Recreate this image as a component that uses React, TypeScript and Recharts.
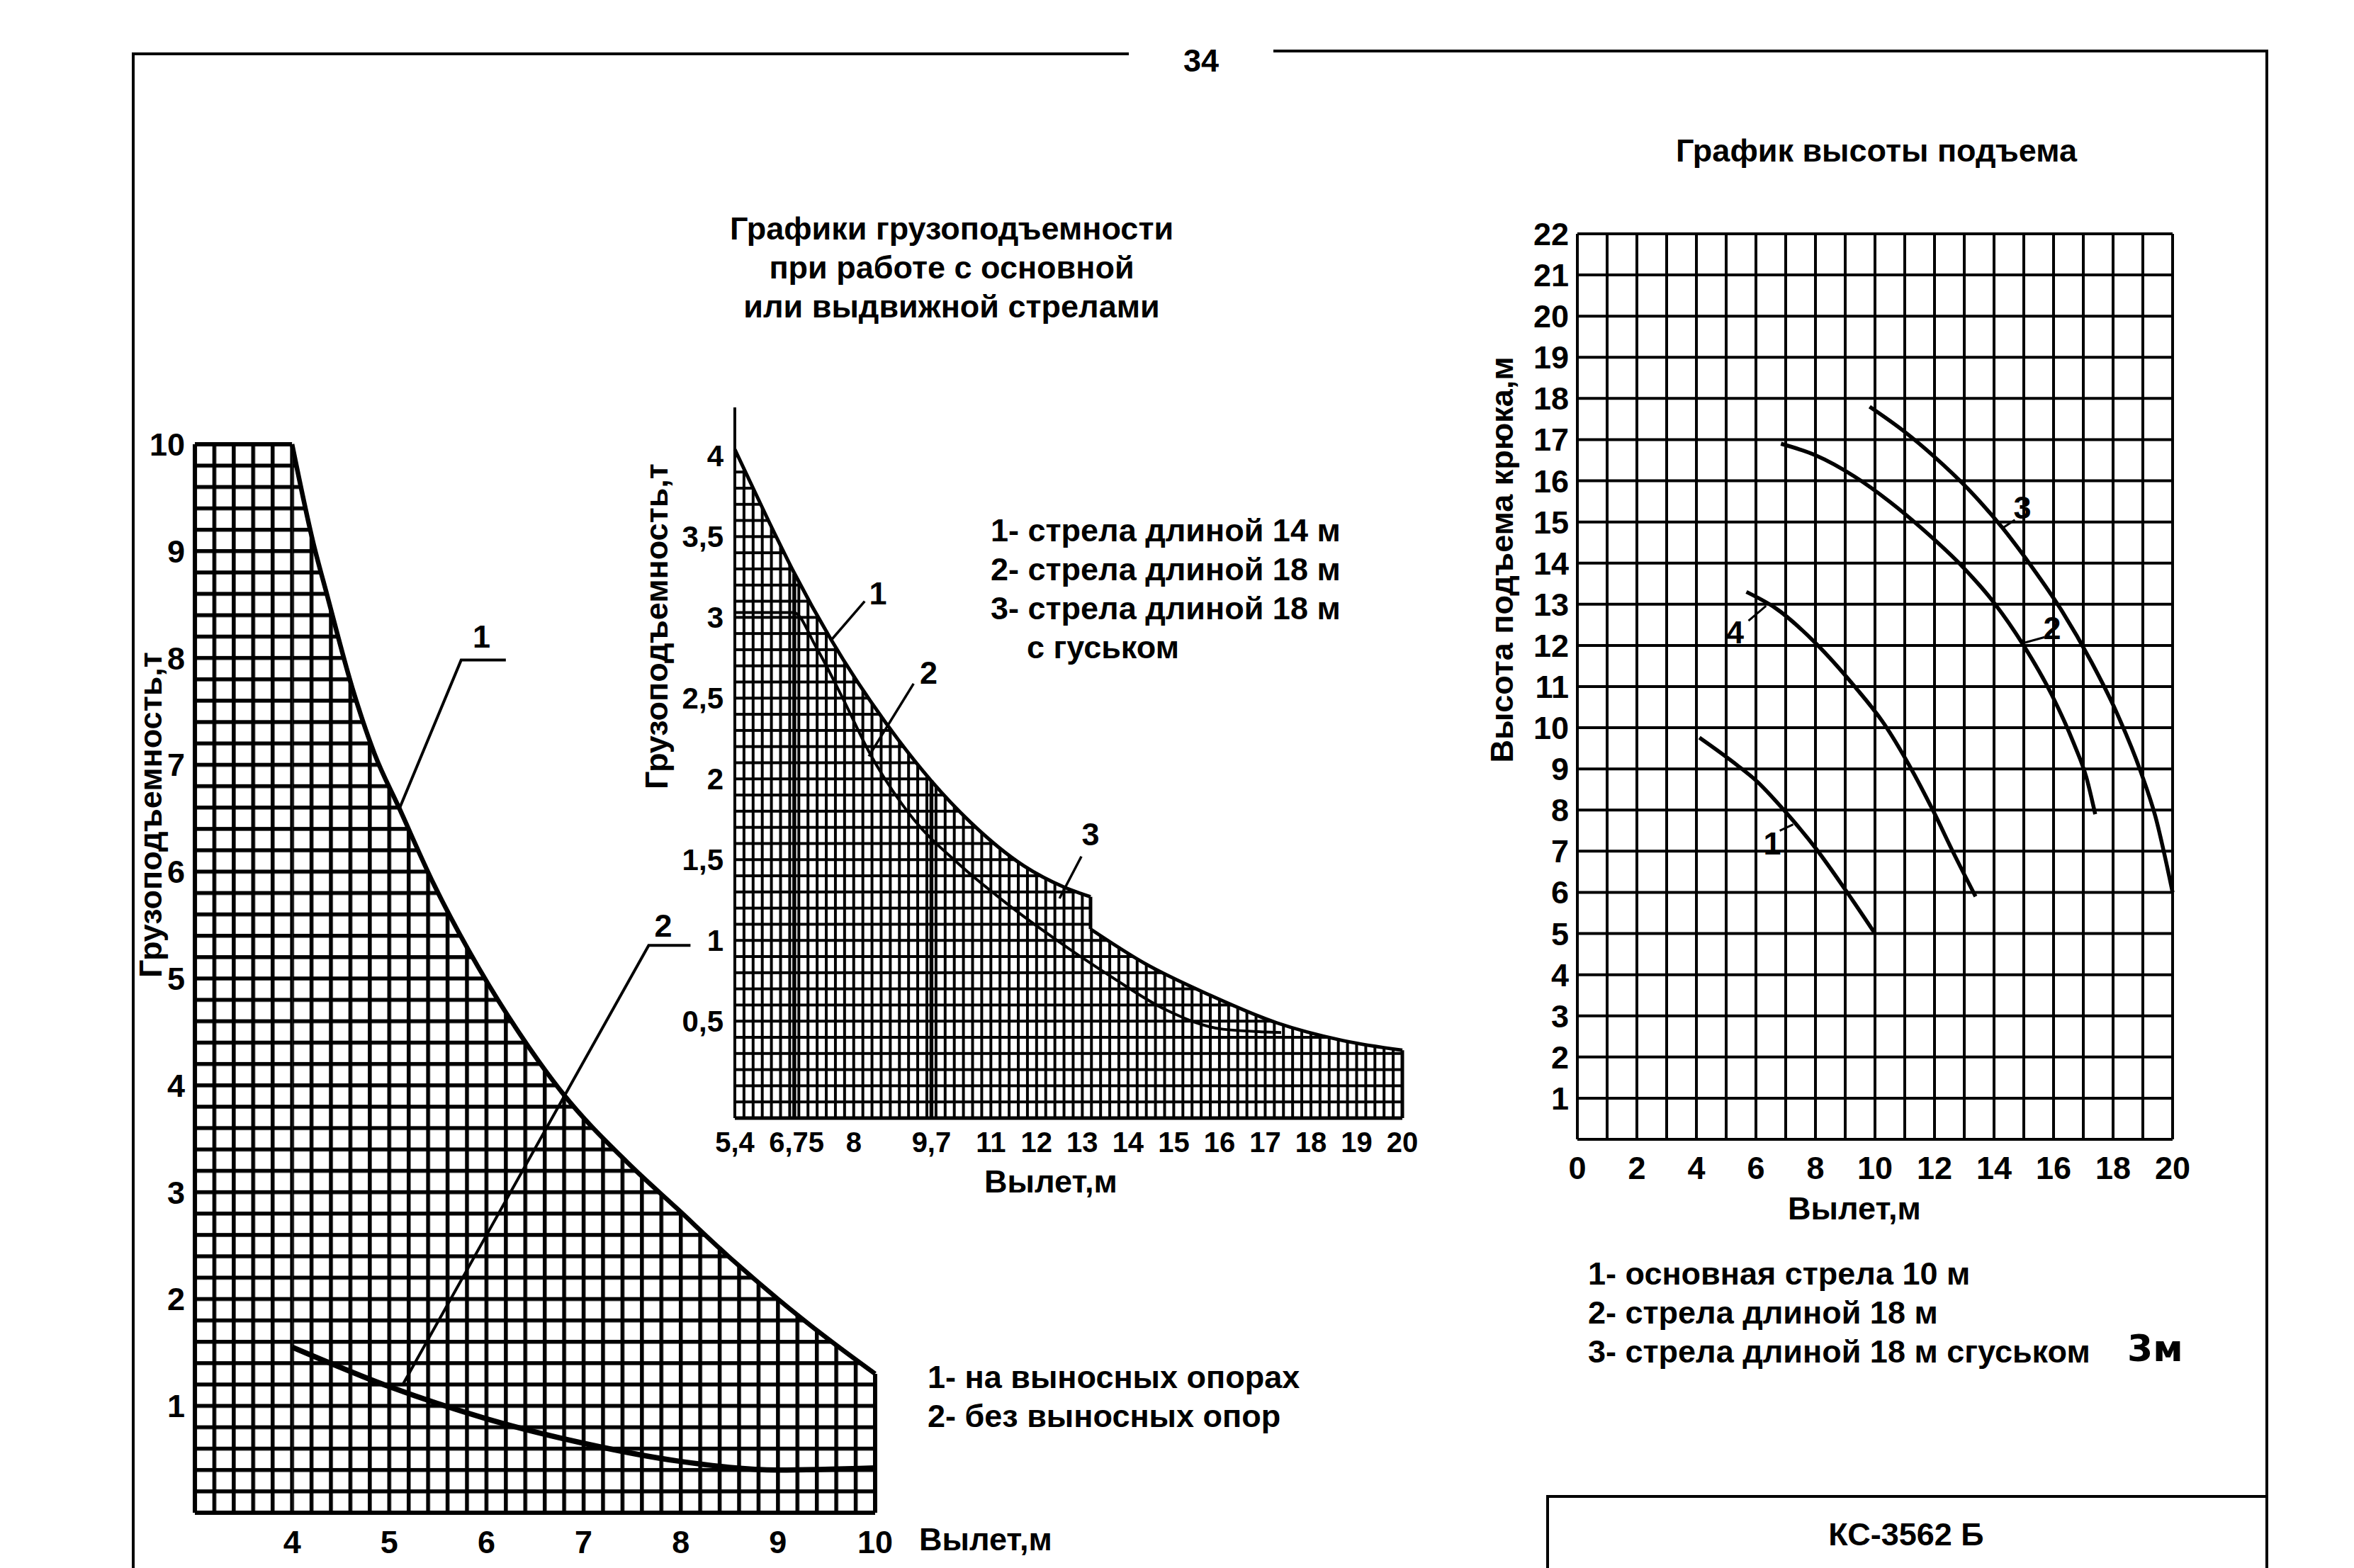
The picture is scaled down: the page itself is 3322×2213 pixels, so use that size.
import type { ReactNode } from "react";
import { Area, CartesianGrid, ComposedChart, Line, ReferenceDot, XAxis, YAxis } from "recharts";

const FONT = '"Liberation Sans", Arial, Helvetica, sans-serif';
const INK = "#000";

// ---------- left chart: на выносных опорах / без выносных опор ----------
const LEFT_X_TICKS = [4, 5, 6, 7, 8, 9, 10];
const LEFT_Y_TICKS = [1, 2, 3, 4, 5, 6, 7, 8, 9, 10];
const LEFT_TOP_X = [3, 4];
const LEFT_TOP_Y = [10, 10];
const LEFT_C1_X = [4, 4.22, 4.36, 4.62, 4.85, 5.1, 5.46, 5.92, 6.33, 6.79, 7.46, 7.97, 8.49, 9.0, 9.51, 10];
const LEFT_C1_Y = [10, 9.07, 8.59, 7.72, 7.1, 6.6, 5.88, 5.1, 4.5, 3.92, 3.27, 2.84, 2.4, 2.0, 1.63, 1.3];
const LEFT_C2_X = [4, 5, 6, 7, 8, 9, 10];
const LEFT_C2_Y = [1.55, 1.18, 0.88, 0.65, 0.48, 0.4, 0.42];
const LEFT_EDGES = [
  { x: [3, 3], y: [0, 10] },
  { x: [3, 10], y: [0, 0] },
  { x: [10, 10], y: [0, 1.3] },
];
const LEFT_LEADERS = [
  { x: [5.1, 5.74, 6.2], y: [6.58, 7.98, 7.98] },
  { x: [5.14, 7.67, 8.1], y: [1.2, 5.31, 5.31] },
];
const LEFT_MARKS = [
  { text: "1", x: 5.95, y: 8.2 },
  { text: "2", x: 7.82, y: 5.5 },
];

// ---------- middle chart: стрелы 14 / 18 м ----------
const MID_X_TICKS = [5.4, 6.75, 8, 9.7, 11, 12, 13, 14, 15, 16, 17, 18, 19, 20];
const MID_Y_TICKS = [0.5, 1, 1.5, 2, 2.5, 3, 3.5, 4];
const MID_UP_X = [5.4, 6.1, 6.69, 7.51, 8.72, 9.69, 10.56, 11.73, 12.6, 13.18];
const MID_UP_Y = [4.04, 3.62, 3.28, 2.86, 2.34, 1.99, 1.73, 1.46, 1.33, 1.27];
const MID_LOW_X = [13.18, 14.35, 15.8, 17.25, 18.7, 20];
const MID_LOW_Y = [1.07, 0.86, 0.66, 0.49, 0.38, 0.32];
const MID_C2_X = [5.4, 6.69, 7.17, 7.76, 8.33, 9.31, 10.27, 11.34, 12.5, 13.66, 14.83, 16.08, 17.35];
const MID_C2_Y = [3.03, 3.03, 2.82, 2.5, 2.17, 1.75, 1.48, 1.23, 0.99, 0.77, 0.57, 0.45, 0.43];
const MID_EDGES = [
  { x: [13.18, 13.18], y: [1.27, 1.07] },
  { x: [5.4, 20], y: [-0.1, -0.1] },
  { x: [20, 20], y: [-0.1, 0.32] },
  { x: [6.7, 6.7], y: [-0.1, 3.27] },
  { x: [9.7, 9.7], y: [-0.1, 1.99] },
];
const MID_LEADERS = [
  { x: [7.51, 8.24], y: [2.86, 3.1] },
  { x: [8.33, 9.31], y: [2.14, 2.59] },
  { x: [12.5, 12.98], y: [1.26, 1.52] },
];
const MID_MARKS = [
  { text: "1", x: 8.53, y: 3.15 },
  { text: "2", x: 9.64, y: 2.66 },
  { text: "3", x: 13.18, y: 1.66 },
];

// ---------- right chart: высота подъема ----------
const RIGHT_X_TICKS = [0, 1, 2, 3, 4, 5, 6, 7, 8, 9, 10, 11, 12, 13, 14, 15, 16, 17, 18, 19, 20];
const RIGHT_Y_TICKS = [0, 1, 2, 3, 4, 5, 6, 7, 8, 9, 10, 11, 12, 13, 14, 15, 16, 17, 18, 19, 20, 21, 22];
const RIGHT_C1_X = [4.1, 5.35, 6.0, 7.0, 8.0, 9.16, 10.0];
const RIGHT_C1_Y = [9.76, 9.1, 8.72, 7.95, 7.08, 5.9, 5.0];
const RIGHT_C4_X = [5.68, 6.67, 8.0, 9.32, 10.3, 11.14, 11.97, 12.63, 13.38];
const RIGHT_C4_Y = [13.3, 12.9, 12.06, 11.0, 10.1, 9.1, 7.96, 6.97, 5.9];
const RIGHT_C2_X = [6.84, 8.0, 9.32, 10.48, 11.64, 12.96, 14.04, 14.95, 15.94, 16.69, 17.1, 17.4];
const RIGHT_C2_Y = [16.9, 16.62, 16.1, 15.5, 14.8, 13.9, 13.0, 12.05, 10.8, 9.6, 8.8, 7.9];
const RIGHT_C3_X = [9.82, 10.98, 11.97, 13.13, 14.29, 15.28, 16.27, 17.27, 18.1, 18.92, 19.42, 20.0];
const RIGHT_C3_Y = [17.8, 17.2, 16.6, 15.8, 14.85, 13.9, 12.85, 11.6, 10.4, 8.95, 7.85, 6.0];
const RIGHT_LEADERS = [
  { x: [14.29, 14.7], y: [14.85, 15.05] },
  { x: [14.95, 15.7], y: [12.05, 12.2] },
  { x: [5.75, 6.34], y: [12.6, 12.96] },
  { x: [6.8, 7.25], y: [7.5, 7.65] },
];
const RIGHT_MARKS = [
  { text: "1", x: 6.55, y: 7.2 },
  { text: "2", x: 15.95, y: 12.42 },
  { text: "3", x: 14.95, y: 15.36 },
  { text: "4", x: 5.3, y: 12.33 },
];

const pts = (xs: number[], ys: number[]) => xs.map((x, i) => ({ x, y: ys[i] }));
const comma = (v: number) => String(v).replace(".", ",");

const TICK = { fontSize: 45, fontWeight: 700, fill: INK, fontFamily: FONT };
const MARK_LABEL = (text: string) => ({
  value: text,
  position: "center" as const,
  fill: INK,
  fontSize: 45,
  fontWeight: 700,
  fontFamily: FONT,
});

function Txt({
  x,
  y,
  children,
  size = 45,
  anchor = "start",
  rotate = 0,
  family = FONT,
}: {
  x: number;
  y: number;
  children: ReactNode;
  size?: number;
  anchor?: "start" | "middle";
  rotate?: number;
  family?: string;
}) {
  const tx = anchor === "middle" ? "-50%" : "0";
  return (
    <div
      style={{
        position: "absolute",
        left: x,
        top: y,
        fontFamily: family,
        fontWeight: 700,
        fontSize: size,
        lineHeight: 1,
        whiteSpace: "nowrap",
        color: INK,
        transform: `translate(${tx}, -50%) rotate(${rotate}deg)`,
      }}
    >
      {children}
    </div>
  );
}

function Rule({ x, y, w, h }: { x: number; y: number; w: number; h: number }) {
  return <div style={{ position: "absolute", left: x, top: y, width: w, height: h, background: INK }} />;
}

function plainLine(data: { x: number; y: number }[], w: number, type: "linear" | "monotone", key: string) {
  return (
    <Line
      key={key}
      data={data}
      dataKey="y"
      type={type}
      stroke={INK}
      strokeWidth={w}
      dot={false}
      activeDot={false}
      isAnimationActive={false}
    />
  );
}

// left chart geometry (local svg coordinates)
const L_W = 1150;
const L_H = 1700;
const L_MARGIN = { top: 67, right: 65, left: 25, bottom: 65 };
const L_YW = 100;
const L_PLOT_W = L_W - L_MARGIN.left - L_MARGIN.right - L_YW;
const L_PLOT_H = L_H - L_MARGIN.top - L_MARGIN.bottom - 60;
const L_LW = 5.5;

function LeftChart() {
  const cw = L_PLOT_W / 35;
  const ch = L_PLOT_H / 50;
  return (
    <div style={{ position: "absolute", left: 150, top: 560 }}>
      <ComposedChart width={L_W} height={L_H} margin={L_MARGIN}>
        <defs>
          <pattern
            id="gridL"
            patternUnits="userSpaceOnUse"
            x={L_MARGIN.left + L_YW - L_LW / 2}
            y={L_MARGIN.top - L_LW / 2}
            width={cw}
            height={ch}
          >
            <rect x={0} y={0} width={L_LW} height={ch} fill={INK} />
            <rect x={0} y={0} width={cw} height={L_LW} fill={INK} />
          </pattern>
        </defs>
        <XAxis
          dataKey="x"
          type="number"
          domain={[3, 10]}
          ticks={LEFT_X_TICKS}
          interval={0}
          axisLine={false}
          tickLine={false}
          tickSize={0}
          tickMargin={25}
          height={60}
          tick={TICK}
        />
        <YAxis
          type="number"
          domain={[0, 10]}
          ticks={LEFT_Y_TICKS}
          interval={0}
          axisLine={false}
          tickLine={false}
          tickSize={0}
          tickMargin={14}
          width={L_YW}
          tick={TICK}
        />
        <Area
          data={pts(LEFT_TOP_X, LEFT_TOP_Y)}
          dataKey="y"
          type="linear"
          baseValue={0}
          fill="url(#gridL)"
          fillOpacity={1}
          stroke={INK}
          strokeWidth={6}
          dot={false}
          activeDot={false}
          isAnimationActive={false}
        />
        <Area
          data={pts(LEFT_C1_X, LEFT_C1_Y)}
          dataKey="y"
          type="monotone"
          baseValue={0}
          fill="url(#gridL)"
          fillOpacity={1}
          stroke={INK}
          strokeWidth={6.5}
          dot={false}
          activeDot={false}
          isAnimationActive={false}
        />
        {LEFT_EDGES.map((e, i) => plainLine(pts(e.x, e.y), 6, "linear", `le${i}`))}
        {plainLine(pts(LEFT_C2_X, LEFT_C2_Y), 7.5, "monotone", "lc2")}
        {LEFT_LEADERS.map((e, i) => plainLine(pts(e.x, e.y), 4, "linear", `ll${i}`))}
        {LEFT_MARKS.map((m) => (
          <ReferenceDot key={m.text} x={m.x} y={m.y} r={0} fill="none" stroke="none" label={MARK_LABEL(m.text)} />
        ))}
      </ComposedChart>
    </div>
  );
}

// middle chart geometry
const M_W = 1200;
const M_H = 1200;
const M_MARGIN = { top: 75, right: 71, left: 67, bottom: 62 };
const M_YW = 120;
const M_PLOT_W = M_W - M_MARGIN.left - M_MARGIN.right - M_YW;
const M_PLOT_H = M_H - M_MARGIN.top - M_MARGIN.bottom - 60;
const M_Y_MIN = -0.1;
const M_Y_MAX = 4.3;
const M_LW = 4;

function MiddleChart() {
  const cw = M_PLOT_W / 14.6 / 5;
  const unitY = M_PLOT_H / (M_Y_MAX - M_Y_MIN);
  const ch = unitY / 10;
  const zeroY = M_MARGIN.top + M_Y_MAX * unitY;
  return (
    <div style={{ position: "absolute", left: 850, top: 500 }}>
      <ComposedChart width={M_W} height={M_H} margin={M_MARGIN}>
        <defs>
          <pattern
            id="gridM"
            patternUnits="userSpaceOnUse"
            x={M_MARGIN.left + M_YW - M_LW / 2}
            y={zeroY - M_LW / 2}
            width={cw}
            height={ch}
          >
            <rect x={0} y={0} width={M_LW} height={ch} fill={INK} />
            <rect x={0} y={0} width={cw} height={M_LW} fill={INK} />
          </pattern>
        </defs>
        <XAxis
          dataKey="x"
          type="number"
          domain={[5.4, 20]}
          ticks={MID_X_TICKS}
          interval={0}
          tickFormatter={comma}
          axisLine={false}
          tickLine={false}
          tickSize={0}
          tickMargin={20}
          height={60}
          tick={{ ...TICK, fontSize: 40 }}
        />
        <YAxis
          type="number"
          domain={[M_Y_MIN, M_Y_MAX]}
          ticks={MID_Y_TICKS}
          interval={0}
          tickFormatter={comma}
          axisLine={{ stroke: INK, strokeWidth: 4 }}
          tickLine={false}
          tickSize={0}
          tickMargin={16}
          width={M_YW}
          tick={{ ...TICK, fontSize: 42 }}
        />
        <Area
          data={pts(MID_UP_X, MID_UP_Y)}
          dataKey="y"
          type="monotone"
          baseValue={M_Y_MIN}
          fill="url(#gridM)"
          fillOpacity={1}
          stroke={INK}
          strokeWidth={5}
          dot={false}
          activeDot={false}
          isAnimationActive={false}
        />
        <Area
          data={pts(MID_LOW_X, MID_LOW_Y)}
          dataKey="y"
          type="monotone"
          baseValue={M_Y_MIN}
          fill="url(#gridM)"
          fillOpacity={1}
          stroke={INK}
          strokeWidth={5}
          dot={false}
          activeDot={false}
          isAnimationActive={false}
        />
        {MID_EDGES.map((e, i) => plainLine(pts(e.x, e.y), i > 2 ? 5.5 : 5, "linear", `me${i}`))}
        {plainLine(pts(MID_C2_X, MID_C2_Y), 4, "monotone", "mc2")}
        {MID_LEADERS.map((e, i) => plainLine(pts(e.x, e.y), 3.5, "linear", `ml${i}`))}
        {MID_MARKS.map((m) => (
          <ReferenceDot key={m.text} x={m.x} y={m.y} r={0} fill="none" stroke="none" label={MARK_LABEL(m.text)} />
        ))}
      </ComposedChart>
    </div>
  );
}

// right chart geometry
const R_W = 1100;
const R_H = 1450;
const R_MARGIN = { top: 60, right: 84, left: 56, bottom: 52 };
const R_YW = 120;

function RightChart() {
  return (
    <div style={{ position: "absolute", left: 2050, top: 270 }}>
      <ComposedChart width={R_W} height={R_H} margin={R_MARGIN}>
        <CartesianGrid stroke={INK} strokeWidth={4} />
        <XAxis
          dataKey="x"
          type="number"
          domain={[0, 20]}
          ticks={RIGHT_X_TICKS}
          interval={0}
          tickFormatter={(v: number) => (v % 2 === 0 ? String(v) : "")}
          axisLine={false}
          tickLine={false}
          tickSize={0}
          tickMargin={24}
          height={60}
          tick={TICK}
        />
        <YAxis
          type="number"
          domain={[0, 22]}
          ticks={RIGHT_Y_TICKS}
          interval={0}
          tickFormatter={(v: number) => (v === 0 ? "" : String(v))}
          axisLine={false}
          tickLine={false}
          tickSize={0}
          tickMargin={12}
          width={R_YW}
          tick={TICK}
        />
        {plainLine(pts(RIGHT_C1_X, RIGHT_C1_Y), 5.5, "monotone", "c1")}
        {plainLine(pts(RIGHT_C4_X, RIGHT_C4_Y), 5.5, "monotone", "c4")}
        {plainLine(pts(RIGHT_C2_X, RIGHT_C2_Y), 5.5, "monotone", "c2")}
        {plainLine(pts(RIGHT_C3_X, RIGHT_C3_Y), 5.5, "monotone", "c3")}
        {RIGHT_LEADERS.map((e, i) => plainLine(pts(e.x, e.y), 3, "linear", `rl${i}`))}
        {RIGHT_MARKS.map((m) => (
          <ReferenceDot key={m.text} x={m.x} y={m.y} r={0} fill="none" stroke="none" label={MARK_LABEL(m.text)} />
        ))}
      </ComposedChart>
    </div>
  );
}

export default function App() {
  return (
    <div
      style={{
        position: "absolute",
        left: 0,
        top: 0,
        width: 3322,
        height: 2213,
        background: "#fff",
        overflow: "hidden",
      }}
    >
      {/* page frame */}
      <Rule x={186} y={74} w={1407} h={4} />
      <Rule x={1797} y={70} w={1404} h={4} />
      <Rule x={186} y={74} w={4} h={2139} />
      <Rule x={3197} y={70} w={4} h={2143} />
      <Rule x={2182} y={2110} w={1019} h={4} />
      <Rule x={2182} y={2110} w={4} h={103} />
      <Txt x={1695} y={85} anchor="middle">34</Txt>
      <Txt x={2690} y={2165} anchor="middle">КС-3562 Б</Txt>

      <LeftChart />
      <MiddleChart />
      <RightChart />

      {/* left chart texts */}
      <Txt x={212} y={1150} anchor="middle" rotate={-90}>Грузоподъемность,т</Txt>
      <Txt x={1297} y={2172}>Вылет,м</Txt>
      <Txt x={1309} y={1943}>1- на выносных опорах</Txt>
      <Txt x={1309} y={1998}>2- без выносных опор</Txt>

      {/* middle chart texts */}
      <Txt x={1343} y={322} anchor="middle">Графики грузоподъемности</Txt>
      <Txt x={1343} y={377} anchor="middle">при работе с основной</Txt>
      <Txt x={1343} y={432} anchor="middle">или выдвижной стрелами</Txt>
      <Txt x={1398} y={748}>1- стрела длиной 14 м</Txt>
      <Txt x={1398} y={803}>2- стрела длиной 18 м</Txt>
      <Txt x={1398} y={858}>3- стрела длиной 18 м</Txt>
      <Txt x={1449} y={913}>с гуськом</Txt>
      <Txt x={926} y={884} anchor="middle" rotate={-90}>Грузоподъемность,т</Txt>
      <Txt x={1483} y={1667} anchor="middle">Вылет,м</Txt>

      {/* right chart texts */}
      <Txt x={2648} y={212} anchor="middle">График высоты подъема</Txt>
      <Txt x={2119} y={790} anchor="middle" rotate={-90}>Высота подъема крюка,м</Txt>
      <Txt x={2617} y={1705} anchor="middle">Вылет,м</Txt>
      <Txt x={2241} y={1797}>1- основная стрела 10 м</Txt>
      <Txt x={2241} y={1852}>2- стрела длиной 18 м</Txt>
      <Txt x={2241} y={1907}>3- стрела длиной 18 м сгуськом</Txt>
      <Txt x={3002} y={1903} size={52} family='"DejaVu Sans", sans-serif'>3м</Txt>
    </div>
  );
}
